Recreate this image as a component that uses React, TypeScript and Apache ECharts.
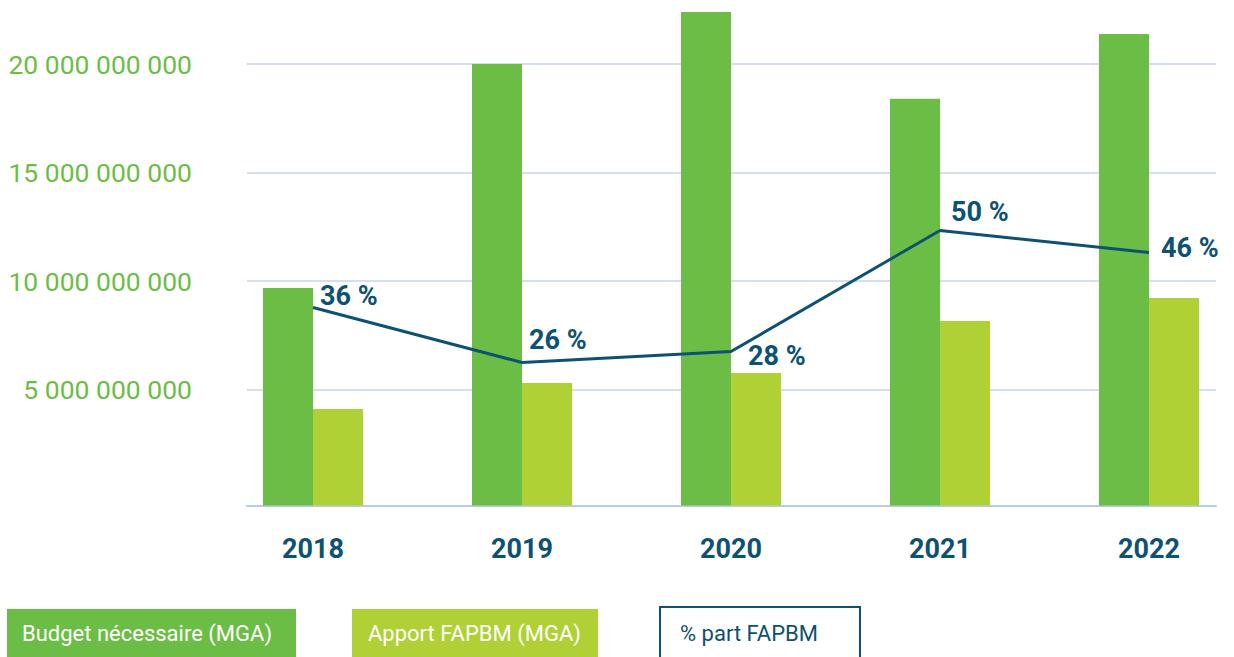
import React, { useEffect, useRef } from "react";
import * as echarts from "echarts";

const years = ["2018", "2019", "2020", "2021", "2022"];
const budgetNecessaire = [9.68e9, 20.0e9, 22.4e9, 18.4e9, 21.38e9];
const apportFapbm = [4.1e9, 5.3e9, 5.76e9, 8.16e9, 9.22e9];
const partFapbm = [36, 26, 28, 50, 46];
const yTicks = [0, 5e9, 10e9, 15e9, 20e9, 25e9];
const legendNames = ["Budget nécessaire (MGA)", "Apport FAPBM (MGA)", "% part FAPBM"];

const labelOffsets: [number, number][] = [[0, -12], [0, -23], [10, 4], [4, -19], [5, -5]];

const DARK_GREEN = "#6cbd45";
const LIGHT_GREEN = "#afd136";
const BLUE = "#0d5272";
const GRID = "#c6d6ea";
const FONT = "Roboto, 'Noto Sans', sans-serif";

// the chart div is shifted up by SHIFT px and made wider than the window,
// so that the plot areas may reach beyond the visible page
const SHIFT = 50;
const W = 1300;
const H = 657 + SHIFT;

const fmt = (v: number) => String(Math.round(v)).replace(/\B(?=(\d{3})+(?!\d))/g, " ");

export default function App() {
  const ref = useRef<HTMLDivElement>(null);
  useEffect(() => {
    if (!ref.current) return;
    const chart = echarts.init(ref.current, undefined, { renderer: "svg" });
    const yMax = yTicks[yTicks.length - 1];
    const extraBelow = 0.346e9;
    const top = -44.5 + SHIFT;
    chart.setOption({
      animation: false,
      backgroundColor: "#ffffff",
      grid: [
        { left: 247, right: W - 1216, top, bottom: 159 },
        { left: 208.5, right: W - 1253.5, top, bottom: 151.5 },
        { left: 247, right: W - 1216, top, bottom: 151.5 },
      ],
      xAxis: [
        {
          type: "category",
          gridIndex: 0,
          data: years,
          axisLine: { show: false },
          axisTick: { show: false },
          axisLabel: { show: false },
        },
        {
          type: "category",
          gridIndex: 1,
          data: years,
          axisLine: { show: false },
          axisTick: { show: false },
          axisLabel: {
            margin: 30,
            color: BLUE,
            fontFamily: FONT,
            fontWeight: "bold",
            fontSize: 27,
          },
        },
        {
          type: "category",
          gridIndex: 2,
          data: years,
          axisLine: { show: true, lineStyle: { color: "#b9cce3", width: 2 } },
          axisTick: { show: false },
          axisLabel: { show: false },
        },
      ],
      yAxis: [
        {
          type: "value",
          gridIndex: 0,
          min: 0,
          max: yMax,
          interval: 5e9,
          axisLine: { show: false },
          axisTick: { show: false },
          axisLabel: {
            margin: 55,
            color: DARK_GREEN,
            fontFamily: FONT,
            fontSize: 26.5,
            formatter: (v: number) => (v === 0 || v === yMax ? "" : fmt(v)),
          },
          splitLine: {
            show: true,
            lineStyle: {
              color: ["rgba(0,0,0,0)", GRID, GRID, GRID, GRID, "rgba(0,0,0,0)"],
              width: 1.5,
            },
          },
        },
        {
          type: "value",
          gridIndex: 1,
          min: -extraBelow,
          max: yMax,
          startValue: -extraBelow,
          show: false,
          splitLine: { show: false },
        },
        {
          type: "value",
          gridIndex: 1,
          min: 0,
          max: 100,
          show: false,
          splitLine: { show: false },
        },
        {
          type: "value",
          gridIndex: 2,
          show: false,
          splitLine: { show: false },
        },
      ],
      series: [
        {
          name: legendNames[0],
          type: "bar",
          xAxisIndex: 1,
          yAxisIndex: 1,
          data: budgetNecessaire,
          barWidth: 50,
          barGap: "0%",
          clip: false,
          itemStyle: { color: DARK_GREEN },
        },
        {
          name: legendNames[1],
          type: "bar",
          xAxisIndex: 1,
          yAxisIndex: 1,
          data: apportFapbm,
          barWidth: 50,
          barGap: "0%",
          clip: false,
          itemStyle: { color: LIGHT_GREEN },
        },
        {
          name: legendNames[2],
          type: "line",
          xAxisIndex: 1,
          yAxisIndex: 2,
          data: partFapbm.map((v, i) => ({
            value: v,
            label: { offset: labelOffsets[i] },
          })),
          symbol: "circle",
          symbolSize: 0.1,
          showSymbol: true,
          lineStyle: { color: BLUE, width: 3 },
          itemStyle: { color: BLUE },
          label: {
            show: true,
            position: "right",
            distance: 7,
            formatter: "{c} %",
            color: BLUE,
            fontFamily: FONT,
            fontWeight: "bold",
            fontSize: 27,
          },
        },
      ],
      graphic: [
        { type: "rect", shape: { x: 7, y: 609 + SHIFT, width: 289, height: 50 }, style: { fill: DARK_GREEN } },
        {
          type: "text",
          x: 22,
          y: 633 + SHIFT,
          style: { text: legendNames[0], fill: "#ffffff", font: `22px ${FONT}`, verticalAlign: "middle" },
        },
        { type: "rect", shape: { x: 352, y: 609 + SHIFT, width: 246, height: 50 }, style: { fill: LIGHT_GREEN } },
        {
          type: "text",
          x: 368,
          y: 633 + SHIFT,
          style: { text: legendNames[1], fill: "#ffffff", font: `22px ${FONT}`, verticalAlign: "middle" },
        },
        {
          type: "rect",
          shape: { x: 660, y: 607 + SHIFT, width: 200, height: 54 },
          style: { fill: "#ffffff", stroke: BLUE, lineWidth: 2 },
        },
        {
          type: "text",
          x: 680,
          y: 633 + SHIFT,
          style: { text: legendNames[2], fill: BLUE, font: `22px ${FONT}`, verticalAlign: "middle" },
        },
      ],
    });
    return () => chart.dispose();
  }, []);
  return (
    <div
      ref={ref}
      style={{ position: "fixed", left: 0, top: -SHIFT, width: W, height: H }}
    />
  );
}
